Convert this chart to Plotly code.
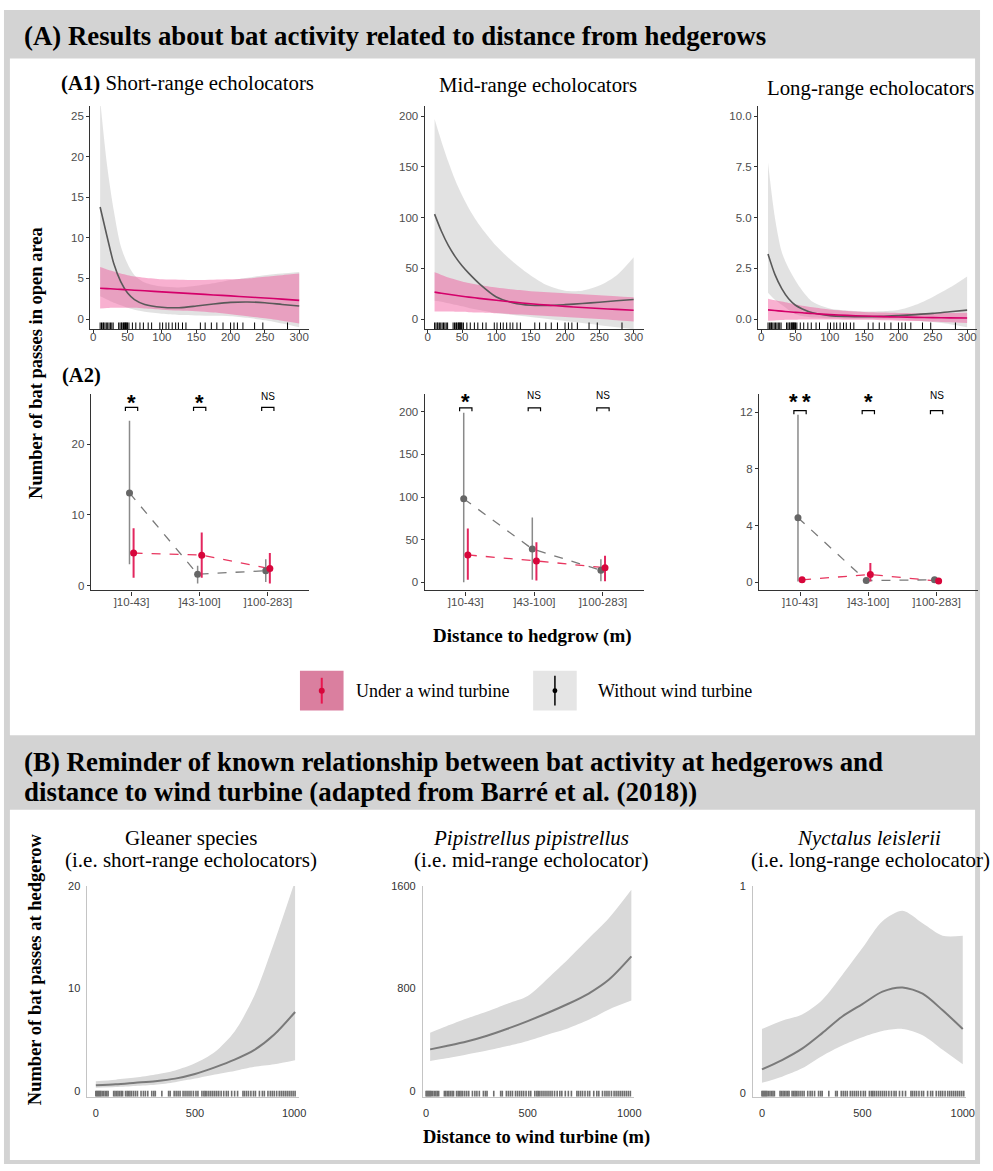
import plotly.graph_objects as go

# ======================= DATA =======================
# (A1) modelled bat passes vs distance to hedgerow (m)
dist_grid = [10, 20, 30, 40, 50, 60, 75, 100, 125, 150, 175, 200, 225, 250, 275, 300]

short_gray_fit = [13.8, 10.2, 6.8, 4.6, 3.2, 2.4, 1.8, 1.45, 1.4, 1.6, 1.85, 2.05, 2.1, 2.0, 1.8, 1.6]
short_gray_hi = [27.0, 19.0, 13.3, 9.0, 6.8, 5.4, 4.5, 4.0, 3.9, 4.1, 4.4, 4.8, 5.1, 5.4, 5.6, 5.8]
short_gray_lo = [2.8, 2.4, 2.0, 1.7, 1.4, 1.15, 0.9, 0.65, 0.5, 0.45, 0.4, 0.35, 0.15, -0.15, -0.55, -1.0]
short_pink_fit = [3.8, 3.75, 3.7, 3.65, 3.6, 3.55, 3.48, 3.35, 3.22, 3.1, 2.97, 2.85, 2.72, 2.6, 2.45, 2.3]
short_pink_hi = [6.4, 6.1, 5.85, 5.6, 5.4, 5.25, 5.1, 4.9, 4.85, 4.8, 4.85, 4.9, 5.0, 5.2, 5.4, 5.6]
short_pink_lo = [1.3, 1.35, 1.38, 1.4, 1.4, 1.38, 1.3, 1.15, 1.05, 0.95, 0.8, 0.6, 0.35, 0.1, -0.2, -0.55]

mid_gray_fit = [103.4, 86.5, 72.5, 61.5, 52.5, 45, 35, 21.8, 15.9, 13.6, 13.4, 14.2, 15.3, 16.6, 18, 19.2]
mid_gray_hi = [197, 175, 155, 137, 122, 109, 93, 72, 56, 43, 33, 28, 28, 33, 43, 61]
mid_gray_lo = [18, 17, 15.5, 14, 12.5, 11, 9, 6, 4, 2, 0, -2, -4, -6, -8, -10]
mid_pink_fit = [26.5, 25.4, 24.4, 23.4, 22.5, 21.6, 20.4, 18.5, 16.7, 15.1, 13.7, 12.5, 11.4, 10.4, 9.5, 8.7]
mid_pink_hi = [46, 43.5, 41, 39, 37, 35.5, 33.5, 31, 29, 27.5, 26.5, 25.5, 24.5, 23.5, 22.5, 21.5]
mid_pink_lo = [7.5, 7.5, 7.4, 7.3, 7.1, 6.8, 6.4, 5.6, 4.8, 4.0, 3.0, 2.0, 1.0, 0.0, -1.2, -2.5]

long_gray_fit = [3.2, 2.2, 1.5, 1.0, 0.68, 0.5, 0.31, 0.17, 0.13, 0.12, 0.13, 0.17, 0.22, 0.28, 0.36, 0.44]
long_gray_hi = [7.7, 5.0, 3.3, 2.5, 1.9, 1.4, 0.85, 0.52, 0.42, 0.37, 0.38, 0.44, 0.7, 1.09, 1.55, 2.1]
long_gray_lo = [1.3, 0.95, 0.7, 0.45, 0.25, 0.15, 0.08, 0.04, 0.02, 0.01, 0.0, -0.02, -0.08, -0.15, -0.25, -0.4]
long_pink_fit = [0.45, 0.42, 0.39, 0.36, 0.33, 0.31, 0.27, 0.22, 0.18, 0.15, 0.12, 0.1, 0.085, 0.07, 0.06, 0.05]
long_pink_hi = [1.0, 0.93, 0.86, 0.79, 0.72, 0.66, 0.58, 0.47, 0.4, 0.35, 0.32, 0.3, 0.29, 0.29, 0.3, 0.31]
long_pink_lo = [-0.08, -0.07, -0.05, -0.04, -0.03, -0.02, -0.02, -0.02, -0.03, -0.04, -0.06, -0.08, -0.1, -0.13, -0.16, -0.2]

# sampled distances to hedgerow (rug)
rug_hedge = [10, 12, 14, 15, 17, 19, 21, 23, 25, 27, 29, 37, 39, 41, 42, 44, 45, 46, 47, 48,
             49, 50, 52, 57, 62, 68, 73, 80, 85, 97, 101, 106, 110, 115, 120, 124, 130, 135,
             156, 163, 172, 180, 189, 200, 205, 210, 218, 235, 247, 283]

# (A2) mean bat passes per distance class
cats = ["]10-43]", "]43-100]", "]100-283]"]

short_wo_mean = [13.1, 1.6, 2.1]
short_wo_lo = [3.0, 0.3, 0.5]
short_wo_hi = [23.3, 2.8, 3.7]
short_wt_mean = [4.6, 4.3, 2.4]
short_wt_lo = [1.1, 1.1, 0.3]
short_wt_hi = [8.1, 7.5, 4.6]

mid_wo_mean = [98, 39, 14]
mid_wo_lo = [0, 3, 1]
mid_wo_hi = [199, 76, 27]
mid_wt_mean = [32, 25, 17]
mid_wt_lo = [3, 2, 1]
mid_wt_hi = [63, 47, 31]

long_wo_mean = [4.55, 0.12, 0.17]
long_wo_lo = [0.05, 0.0, 0.02]
long_wo_hi = [11.8, 0.3, 0.35]
long_wt_mean = [0.17, 0.55, 0.08]
long_wt_lo = [0.02, 0.05, 0.0]
long_wt_hi = [0.35, 1.35, 0.22]

short_sig = ["*", "*", "NS"]
mid_sig = ["*", "NS", "NS"]
long_sig = ["*\u2009*", "*", "NS"]

# (B) bat passes at hedgerow vs distance to wind turbine (Barré et al. 2018)
b1_x = [0, 100, 200, 300, 400, 500, 600, 700, 800, 900, 1005]
b1_fit = [0.55, 0.65, 0.8, 0.95, 1.2, 1.65, 2.3, 3.05, 4.0, 5.5, 7.7]
b1_hi = [0.95, 1.1, 1.3, 1.6, 2.0, 2.7, 3.8, 5.8, 9.3, 14.5, 20.5]
b1_lo = [0.3, 0.38, 0.48, 0.6, 0.85, 1.2, 1.6, 1.95, 2.35, 2.6, 3.0]

b2_x = [20, 100, 200, 300, 400, 500, 600, 700, 800, 900, 1010]
b2_fit = [324, 350, 385, 430, 485, 545, 610, 680, 760, 869, 1050]
b2_hi = [454, 505, 565, 620, 680, 740, 880, 1030, 1190, 1350, 1570]
b2_lo = [234, 255, 285, 315, 350, 390, 441, 490, 555, 636, 705]

b3_x = [0, 100, 200, 300, 400, 500, 600, 700, 800, 900, 1000]
b3_fit = [0.115, 0.16, 0.215, 0.29, 0.37, 0.43, 0.49, 0.51, 0.48, 0.4, 0.31]
b3_hi = [0.31, 0.35, 0.38, 0.45, 0.57, 0.70, 0.83, 0.88, 0.82, 0.76, 0.76]
b3_lo = [0.05, 0.08, 0.12, 0.18, 0.23, 0.27, 0.30, 0.31, 0.28, 0.21, 0.14]

rug_turbine = [0, 5, 10, 15, 20, 25, 32, 40, 48, 55, 62, 90, 97, 105, 112, 120, 128, 135, 150,
               158, 165, 172, 180, 190, 200, 210, 228, 240, 250, 262, 282, 292, 300, 333, 367,
               375, 395, 405, 415, 425, 440, 450, 460, 470, 480, 492, 505, 515, 535, 545, 552,
               560, 570, 580, 590, 600, 610, 620, 632, 645, 658, 668, 685, 700, 715, 742, 750,
               760, 770, 782, 795, 805, 825, 840, 850, 868, 880, 890, 900, 912, 925, 935, 945,
               955, 965, 975, 985, 995, 1005]

# ======================= STYLE / LAYOUT HELPERS =======================
W, H = 993, 1171
SERIF = "Liberation Serif, Times New Roman, serif"
SANS = "Liberation Sans, Arial, sans-serif"

GRAY_FILL = "rgba(160,160,160,0.30)"
PINK_FILL = "rgba(240,80,150,0.45)"
GRAY_LINE = "#595959"
PINK_LINE = "#d4006a"
RED_PT = "#d7063b"
RED_BAR = "#e3265e"
GRAY_PT = "#666666"
GRAY_BAR = "#8a8a8a"


def fx(p):
    return p / W


def fy(p):
    return 1 - p / H


def names(i):
    if i == 1:
        return "x", "y", "xaxis", "yaxis"
    return f"x{i}", f"y{i}", f"xaxis{i}", f"yaxis{i}"


fig = go.Figure()
shapes = []
annotations = []
layout_axes = {}

# ---------- background frame ----------
shapes.append(dict(type="rect", xref="paper", yref="paper", x0=fx(4), x1=fx(989),
                   y0=fy(1167), y1=fy(4), fillcolor="#d3d3d3", line_width=0, layer="below"))
shapes.append(dict(type="rect", xref="paper", yref="paper", x0=fx(10), x1=fx(984),
                   y0=fy(735), y1=fy(53), fillcolor="white", line_width=0, layer="below"))
shapes.append(dict(type="rect", xref="paper", yref="paper", x0=fx(10), x1=fx(984),
                   y0=fy(1163), y1=fy(810), fillcolor="white", line_width=0, layer="below"))


def ribbon(i, xs, lo, hi, color):
    xn, yn, _, _ = names(i)
    fig.add_trace(go.Scatter(x=xs, y=lo, mode="lines", line=dict(width=0, shape="spline", smoothing=0.8),
                             xaxis=xn, yaxis=yn, showlegend=False, hoverinfo="skip"))
    fig.add_trace(go.Scatter(x=xs, y=hi, mode="lines", line=dict(width=0, shape="spline", smoothing=0.8),
                             fill="tonexty", fillcolor=color, xaxis=xn, yaxis=yn,
                             showlegend=False, hoverinfo="skip"))


def curve(i, xs, ys, color, width):
    xn, yn, _, _ = names(i)
    fig.add_trace(go.Scatter(x=xs, y=ys, mode="lines",
                             line=dict(color=color, width=width, shape="spline", smoothing=0.8),
                             xaxis=xn, yaxis=yn, showlegend=False))


def rug(i, values, frac, color, width):
    xn, yn, _, _ = names(i)
    for v in values:
        shapes.append(dict(type="line", xref=xn, yref=f"{yn} domain", x0=v, x1=v, y0=0, y1=frac,
                           line=dict(color=color, width=width)))


A_AX = dict(showline=True, linecolor="#333333", linewidth=1.1, ticks="outside", ticklen=3,
            tickcolor="#333333", tickwidth=1, showgrid=False, zeroline=False,
            tickfont=dict(family=SANS, size=11.5, color="#4d4d4d"))
B_AX = dict(showline=True, linecolor="#c4c4c4", linewidth=1, ticks="outside",
            tickcolor="rgba(0,0,0,0)", showgrid=False, zeroline=False,
            tickfont=dict(family=SANS, size=11, color="#333333"))


def set_axes(i, xdom_px, ydom_px, xr, yr, base, xextra, yextra):
    xn, yn, xk, yk = names(i)
    xa = dict(base)
    xa.update(domain=[fx(xdom_px[0]), fx(xdom_px[1])], range=xr, anchor=yn)
    xa.update(xextra)
    ya = dict(base)
    ya.update(domain=[fy(ydom_px[1]), fy(ydom_px[0])], range=yr, anchor=xn)
    ya.update(yextra)
    layout_axes[xk] = xa
    layout_axes[yk] = ya


# ======================= (A1) =======================
a1_panels = [
    (short_gray_fit, short_gray_lo, short_gray_hi, short_pink_fit, short_pink_lo, short_pink_hi),
    (mid_gray_fit, mid_gray_lo, mid_gray_hi, mid_pink_fit, mid_pink_lo, mid_pink_hi),
    (long_gray_fit, long_gray_lo, long_gray_hi, long_pink_fit, long_pink_lo, long_pink_hi),
]
a1_xdom = [(91, 312), (428.5, 649.5), (765, 986)]
a1_ydom = (100.7, 325.7)
a1_yr = [[-1.25, 26.25], [-10, 210], [-0.5, 10.5]]
a1_yticks = [
    dict(tickvals=[0, 5, 10, 15, 20, 25]),
    dict(tickvals=[0, 50, 100, 150, 200]),
    dict(tickvals=[0, 2.5, 5, 7.5, 10], ticktext=["0.0", "2.5", "5.0", "7.5", "10.0"]),
]
for k, (gf, glo, ghi, pf, plo, phi) in enumerate(a1_panels):
    i = k + 1
    ribbon(i, dist_grid, glo, ghi, GRAY_FILL)
    ribbon(i, dist_grid, plo, phi, PINK_FILL)
    curve(i, dist_grid, gf, GRAY_LINE, 1.6)
    curve(i, dist_grid, pf, PINK_LINE, 1.6)
    rug(i, rug_hedge, 0.03, "black", 1)
    set_axes(i, a1_xdom[k], a1_ydom, [-4.5, 314.5], a1_yr[k], A_AX,
             dict(tickvals=[0, 50, 100, 150, 200, 250, 300], ticklabelstandoff=-6), a1_yticks[k])

# ======================= (A2) =======================
a2_panels = [
    (short_wo_mean, short_wo_lo, short_wo_hi, short_wt_mean, short_wt_lo, short_wt_hi, short_sig),
    (mid_wo_mean, mid_wo_lo, mid_wo_hi, mid_wt_mean, mid_wt_lo, mid_wt_hi, mid_sig),
    (long_wo_mean, long_wo_lo, long_wo_hi, long_wt_mean, long_wt_lo, long_wt_hi, long_sig),
]
a2_xdom = [(91.5, 311.5), (428.5, 650), (766, 986.5)]
a2_ydom = (391, 589)
a2_yr = [[-0.7, 27.1], [-9.7, 221], [-0.58, 13.27]]
a2_yticks = [[0, 10, 20], [0, 50, 100, 150, 200], [0, 4, 8, 12]]
bracket_y = [25.2, 204.6, 12.1]
bracket_drop = [0.5, 4.0, 0.25]
label_y = [26.8, 219, 13.15]
pos = [1, 2, 3]

for k, (wom, wol, woh, wtm, wtl, wth, sig) in enumerate(a2_panels):
    i = k + 4
    xn, yn, _, _ = names(i)
    xg = [p - 0.03 for p in pos]
    xr_ = [p + 0.03 for p in pos]
    fig.add_trace(go.Scatter(x=xg, y=wom, mode="lines", line=dict(color="#7a7a7a", width=1.3, dash="dash"),
                             xaxis=xn, yaxis=yn, showlegend=False))
    fig.add_trace(go.Scatter(x=xr_, y=wtm, mode="lines", line=dict(color="#e8365f", width=1.3, dash="dash"),
                             xaxis=xn, yaxis=yn, showlegend=False))
    fig.add_trace(go.Scatter(
        x=xg, y=wom, mode="markers", marker=dict(color=GRAY_PT, size=7),
        error_y=dict(type="data", symmetric=False,
                     array=[h - m for h, m in zip(woh, wom)],
                     arrayminus=[m - l for m, l in zip(wom, wol)],
                     width=0, thickness=1.5, color=GRAY_BAR),
        xaxis=xn, yaxis=yn, showlegend=False))
    fig.add_trace(go.Scatter(
        x=xr_, y=wtm, mode="markers", marker=dict(color=RED_PT, size=7),
        error_y=dict(type="data", symmetric=False,
                     array=[h - m for h, m in zip(wth, wtm)],
                     arrayminus=[m - l for m, l in zip(wtm, wtl)],
                     width=0, thickness=2, color=RED_BAR),
        xaxis=xn, yaxis=yn, showlegend=False))
    # significance brackets
    bx, byy = [], []
    b, d = bracket_y[k], bracket_drop[k]
    for p in pos:
        bx += [p - 0.09, p - 0.09, p + 0.09, p + 0.09, None]
        byy += [b - d, b, b, b - d, None]
    fig.add_trace(go.Scatter(x=bx, y=byy, mode="lines", line=dict(color="black", width=1.2),
                             xaxis=xn, yaxis=yn, showlegend=False, cliponaxis=False))
    for p, s in zip(pos, sig):
        if s == "NS":
            annotations.append(dict(x=p, y=label_y[k], xref=xn, yref=yn, text="NS", showarrow=False,
                                    font=dict(family=SANS, size=10, color="black"),
                                    xanchor="center", yanchor="middle"))
        else:
            annotations.append(dict(x=p, y=label_y[k], xref=xn, yref=yn, text=f"<b>{s}</b>",
                                    showarrow=False, font=dict(family=SANS, size=22, color="black"),
                                    xanchor="center", yanchor="middle", yshift=-6))
    set_axes(i, a2_xdom[k], a2_ydom, [0.4, 3.6], a2_yr[k], A_AX,
             dict(tickvals=pos, ticktext=cats, ticklen=4, ticklabelstandoff=-3),
             dict(tickvals=a2_yticks[k]))

# ======================= (B) =======================
b_panels = [(b1_x, b1_fit, b1_lo, b1_hi), (b2_x, b2_fit, b2_lo, b2_hi), (b3_x, b3_fit, b3_lo, b3_hi)]
b_xdom = [(88.3, 302), (426.7, 640), (760, 975)]
b_ydom = (886.7, 1099)
b_xr = [[-42, 1026], [-16, 1024], [-44, 1017]]
b_yr = [[-0.55, 20], [-44, 1600], [-0.016, 1]]
b_yticks = [[0, 10, 20], [0, 800, 1600], [0, 1]]
for k, (bx_, bf, blo, bhi) in enumerate(b_panels):
    i = k + 7
    ribbon(i, bx_, blo, bhi, "#d9d9d9")
    curve(i, bx_, bf, "#7a7a7a", 2)
    rug(i, rug_turbine, 0.027, "#6e6e6e", 1.6)
    set_axes(i, b_xdom[k], b_ydom, b_xr[k], b_yr[k], B_AX,
             dict(tickvals=[0, 500, 1000], ticklen=6), dict(tickvals=b_yticks[k], ticklen=4))


# ======================= TEXT =======================
def txt(x, y, text, size, xanchor="center", family=SERIF, color="black", angle=0):
    annotations.append(dict(x=fx(x), y=fy(y), xref="paper", yref="paper", text=text,
                            showarrow=False, xanchor=xanchor, yanchor="middle", textangle=angle,
                            font=dict(family=family, size=size, color=color)))


txt(22, 30, "<b>(A) Results about bat activity related to distance from hedgerows</b>", 26.8, "left")
txt(189, 78, "<b>(A1)</b> Short-range echolocators", 20.8)
txt(543, 80, "Mid-range echolocators", 20.8)
txt(878, 83, "Long-range echolocators", 20.8)
txt(82.5, 372, "<b>(A2)</b>", 20.5)
txt(37, 360, "<b>Number of bat passes in open area</b>", 18.5, angle=-90)
txt(537, 635, "<b>Distance to hedgrow (m)</b>", 19)

# legend
shapes.append(dict(type="rect", xref="paper", yref="paper", x0=fx(302.7), x1=fx(346.7),
                   y0=fy(710), y1=fy(670), fillcolor="#da7f9f", line_width=0))
shapes.append(dict(type="line", xref="paper", yref="paper", x0=fx(324.7), x1=fx(324.7),
                   y0=fy(703), y1=fy(677), line=dict(color="#e8174f", width=2)))
shapes.append(dict(type="circle", xref="paper", yref="paper", x0=fx(321.7), x1=fx(327.7),
                   y0=fy(693), y1=fy(687), fillcolor=RED_PT, line=dict(color=RED_PT, width=0)))
shapes.append(dict(type="rect", xref="paper", yref="paper", x0=fx(538), x1=fx(582),
                   y0=fy(710), y1=fy(670), fillcolor="#e5e5e5", line_width=0))
shapes.append(dict(type="line", xref="paper", yref="paper", x0=fx(560), x1=fx(560),
                   y0=fy(705), y1=fy(675), line=dict(color="black", width=1.5)))
shapes.append(dict(type="circle", xref="paper", yref="paper", x0=fx(557.5), x1=fx(562.5),
                   y0=fy(692.5), y1=fy(687.5), fillcolor="black", line=dict(color="black", width=0)))
txt(357, 690, "Under a wind turbine", 18, "left")
txt(601, 690, "Without wind turbine", 18, "left")

txt(22, 762, "<b>(B) Reminder of known relationship between bat activity at hedgerows and</b>", 26.9, "left")
txt(22, 792, "<b>distance to wind turbine (adapted from Barré et al. (2018))</b>", 26.9, "left")
txt(193, 838, "Gleaner species", 21)
txt(193, 861, "(i.e. short-range echolocators)", 21)
txt(536, 838, "<i>Pipistrellus pipistrellus</i>", 21)
txt(536, 861, "(i.e. mid-range echolocator)", 21)
txt(877, 838, "<i>Nyctalus leislerii</i>", 21)
txt(878, 861, "(i.e. long-range echolocator)", 21)
txt(35, 971, "<b>Number of bat passes at hedgerow</b>", 18.5, angle=-90)
txt(541, 1140, "<b>Distance to wind turbine (m)</b>", 18.5)

fig.update_layout(
    width=W, height=H, margin=dict(l=0, r=0, t=0, b=0),
    paper_bgcolor="white", plot_bgcolor="rgba(0,0,0,0)",
    showlegend=False, shapes=shapes, annotations=annotations,
    **layout_axes,
)

fig.write_html("out.html", config={"displayModeBar": False},
               post_script="document.body.style.margin='0';document.body.style.padding='0';"
                           "document.body.style.overflow='hidden';")
